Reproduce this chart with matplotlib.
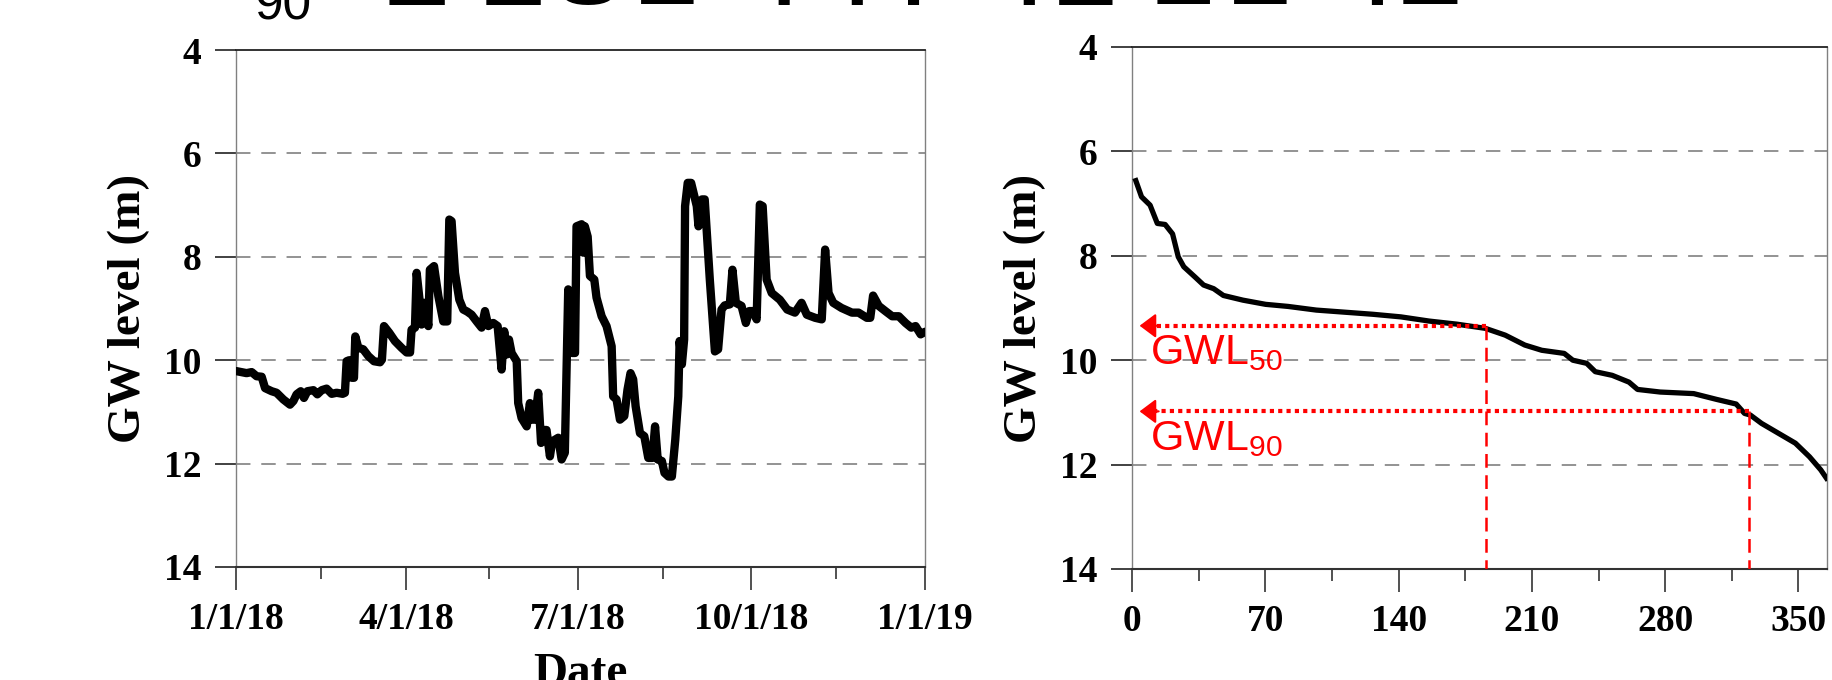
import numpy as np
import matplotlib
matplotlib.use("Agg")
import matplotlib.pyplot as plt
import matplotlib.dates as mdates
from matplotlib.ticker import FixedLocator, FuncFormatter

# daily groundwater level, 2018 (day of year, level in m below ground)
day = [0, 5.6, 8.3, 10.9, 13.6, 15.4, 18.9, 21.5, 25.1, 28.6, 30.4, 32.1, 34.3,
       36.0, 37.8, 41, 43.1, 45.4, 48, 50.7, 53.3, 56.5, 57.7, 58.6, 60, 61.3,
       62.5, 63.2, 64.8, 67.4, 70.1, 73.1, 76.3, 77.3, 78.4, 81.2, 84.2, 87.7,
       90.4, 92.2, 93, 94.8, 95.7, 97.4, 98.3, 99.8, 101.9, 102.7, 104.9, 107.2,
       109.8, 111.9, 113, 114.2, 116, 118.3, 120.4, 122.5, 124.8, 127.5, 130.1,
       131.9, 133.7, 136.3, 138.6, 140.7, 142.1, 143.4, 144.6, 146, 148.7, 149.5,
       151.3, 154, 155.7, 156.6, 158.4, 160.1, 161.6, 163.3, 164.5, 166.3, 167.5,
       170.7, 172.5, 174.2, 176, 177.4, 178.1, 179.6, 180.4, 183.1, 184, 184.8,
       186.3, 187.5, 189.8, 191.0, 193.7, 196.3, 199, 199.8, 201.6, 203.4, 205.7,
       207.4, 209, 210.4, 211.7, 214, 216.3, 218.4, 220.6, 222, 223.4, 225.6, 227,
       229.1, 230.9, 232.7, 234.3, 235, 236.2, 237.4, 237.9, 239.3, 241.1, 244.1,
       245, 246.8, 248.3, 251, 253.7, 255.4, 257.2, 258.9, 261.6, 263, 264.8,
       267.8, 270.1, 271.9, 274, 275.8, 277.5, 279, 281.1, 283.8, 288.1, 292,
       296.1, 299.6, 302.4, 306.8, 310.3, 312.1, 313.9, 316.4, 320.8, 326.3,
       329.8, 334.2, 336, 337.5, 340.5, 344, 347.6, 351.1, 354.7, 357.7, 360,
       362.7, 365]
level = [10.21, 10.25, 10.23, 10.31, 10.32, 10.54, 10.60, 10.63, 10.76, 10.86,
         10.79, 10.66, 10.60, 10.73, 10.60, 10.58, 10.66, 10.58, 10.55, 10.65,
         10.63, 10.65, 10.63, 10.02, 10.0, 10.34, 10.34, 9.54, 9.76, 9.79, 9.92,
         10.02, 10.04, 9.99, 9.34, 9.47, 9.63, 9.76, 9.85, 9.85, 9.41, 9.37, 8.31,
         8.89, 9.31, 8.89, 9.34, 8.25, 8.18, 8.76, 9.25, 9.25, 7.28, 7.31, 8.31,
         8.83, 9.02, 9.06, 9.12, 9.25, 9.37, 9.05, 9.34, 9.28, 9.34, 10.18, 9.44,
         9.89, 9.60, 9.86, 10.02, 10.83, 11.12, 11.28, 10.83, 11.15, 11.15, 10.63,
         11.6, 11.35, 11.35, 11.86, 11.57, 11.50, 11.92, 11.79, 8.63, 9.21, 9.86,
         9.86, 7.41, 7.37, 7.92, 7.41, 7.61, 8.37, 8.44, 8.79, 9.15, 9.34, 9.73,
         10.70, 10.76, 11.15, 11.08, 10.57, 10.25, 10.37, 10.89, 11.41, 11.47,
         11.89, 11.89, 11.28, 11.92, 11.95, 12.18, 12.25, 12.25, 11.54, 10.70,
         9.63, 10.08, 9.60, 7.02, 6.57, 6.57, 7.02, 7.41, 6.89, 6.89, 8.44, 9.83,
         9.79, 9.02, 8.94, 8.92, 8.25, 8.89, 8.95, 9.28, 9.05, 9.05, 9.21, 6.99,
         7.02, 8.44, 8.70, 8.83, 9.02, 9.08, 8.89, 9.12, 9.18, 9.21, 7.86, 8.70,
         8.89, 8.99, 9.08, 9.08, 9.18, 9.18, 8.75, 8.95, 9.05, 9.15, 9.15, 9.28,
         9.37, 9.34, 9.50, 9.45]

# duration curve (rank in days, level sorted from shallow to deep)
rank = [2.0, 5, 9.5, 13.3, 17.4, 21.3, 24.3, 27.2, 33.2, 37.6, 42.9, 48, 58.3,
        70.2, 82, 96.8, 111.6, 126.4, 141.2, 156, 170.7, 185.6, 196, 206.3, 215.2,
        227, 231.5, 238.8, 243.3, 252.2, 261, 265.5, 277.4, 295, 306.9, 317.3,
        321.7, 324.7, 330.6, 339.5, 348.4, 355.8, 361.7, 364.7]
sorted_level = [6.56, 6.87, 7.03, 7.38, 7.40, 7.58, 8.02, 8.21, 8.41, 8.56, 8.63,
                8.76, 8.85, 8.93, 8.97, 9.04, 9.08, 9.12, 9.17, 9.25, 9.31, 9.39,
                9.52, 9.71, 9.81, 9.87, 10.0, 10.06, 10.22, 10.29, 10.42, 10.56,
                10.61, 10.64, 10.75, 10.84, 11.02, 11.05, 11.21, 11.40, 11.59,
                11.85, 12.10, 12.26]

gwl_names = ["GWL$_{\\mathregular{50}}$", "GWL$_{\\mathregular{90}}$"]
gwl_rank = [186, 324]
gwl_level = [9.34, 10.98]

yticks = [4, 6, 8, 10, 12, 14]
grid_levels = [6, 8, 10, 12]
xticks_rank = [0, 70, 140, 210, 280, 350]

W, H = 1832, 680
fig = plt.figure(figsize=(W / 100, H / 100), dpi=100)
serif = "Liberation Serif"
sans = "Liberation Sans"

ax1 = fig.add_axes([236 / W, 1 - 567 / H, 689 / W, 517 / H])
ax2 = fig.add_axes([1132 / W, 1 - 569 / H, 695 / W, 522 / H])

t0 = mdates.date2num(np.datetime64("2018-01-01"))
ax1.plot(t0 + np.array(day), level, color="black", lw=6,
         solid_joinstyle="round", solid_capstyle="round", zorder=3)
ax1.set_xlim(t0, t0 + 365)
ax1.xaxis.set_major_locator(mdates.MonthLocator(bymonth=[1, 4, 7, 10]))
ax1.xaxis.set_minor_locator(mdates.MonthLocator(bymonth=[2, 5, 8, 11], bymonthday=15))
ax1.xaxis.set_major_formatter(FuncFormatter(
    lambda v, p: "{}/{}/{}".format(mdates.num2date(v).month, mdates.num2date(v).day,
                                   mdates.num2date(v).year % 100)))
ax1.set_xlabel("Date", fontsize=34, fontweight="bold", family=serif, labelpad=11)

ax2.plot(rank, sorted_level, color="black", lw=3.8, solid_joinstyle="round", zorder=3)
ax2.set_xlim(0, 365)
ax2.xaxis.set_major_locator(FixedLocator(xticks_rank))
ax2.xaxis.set_minor_locator(FixedLocator([35, 105, 175, 245, 315]))

for name, r, lv in zip(gwl_names, gwl_rank, gwl_level):
    ax2.plot([r, r], [lv, 14], color="red", lw=1.8, dashes=(5.5, 3), zorder=4)
    ax2.plot([r, 12], [lv, lv], color="red", lw=3, ls=(0, (1, 1)), zorder=4)
    ax2.annotate("", xy=(4.0, lv), xytext=(14, lv),
                 arrowprops=dict(arrowstyle="-|>,head_length=1.0,head_width=0.75",
                                 color="red", lw=1.5, shrinkA=0, shrinkB=0), zorder=5)
    ax2.text(9.5, lv + 0.15, name, color="red", fontsize=31, family=sans,
             va="top", ha="left", zorder=5)

for ax in (ax1, ax2):
    ax.set_ylim(14, 4)
    ax.set_yticks(yticks)
    for g in grid_levels:
        ax.axhline(g, color="#8a8a8a", lw=1.3, dashes=(8, 6), zorder=1)
    ax.set_ylabel("GW level (m)", fontsize=34, fontweight="bold", family=serif, labelpad=10)
    ax.tick_params(axis="y", direction="out", length=15, width=1.3, color="#333333",
                   pad=10, labelsize=27)
    ax.tick_params(axis="x", which="major", direction="out", length=16.5, width=1.2,
                   color="#333333", pad=9, labelsize=27)
    ax.tick_params(axis="x", which="minor", direction="out", length=8.6, width=1.2,
                   color="#333333")
    for lab in ax.get_xticklabels() + ax.get_yticklabels():
        lab.set_fontfamily(serif)
        lab.set_fontweight("bold")
    ax.spines["left"].set_color("#808080")
    ax.spines["right"].set_color("#808080")
    ax.spines["top"].set_color("#222222")
    ax.spines["bottom"].set_color("#333333")
    ax.spines["left"].set_linewidth(1.0)
    ax.spines["right"].set_linewidth(1.0)
    ax.spines["top"].set_linewidth(1.3)
    ax.spines["bottom"].set_linewidth(1.5)

# slide title, cut off by the top edge of the picture
fig.text(252 / W, 1 + 1 / H, "GWL", fontsize=56, family=sans, ha="right", va="baseline")
fig.text(255 / W, 1 - 19 / H, "90", fontsize=37, family=sans, ha="left", va="baseline")
fig.text(378 / W, 1 + 2 / H, "을 활용한 지하수 가뭄 판단 기준", fontsize=60,
         family=["Noto Sans CJK KR", "DejaVu Sans"], fontweight="bold",
         ha="left", va="baseline")

fig.savefig("out.png", dpi=100)
